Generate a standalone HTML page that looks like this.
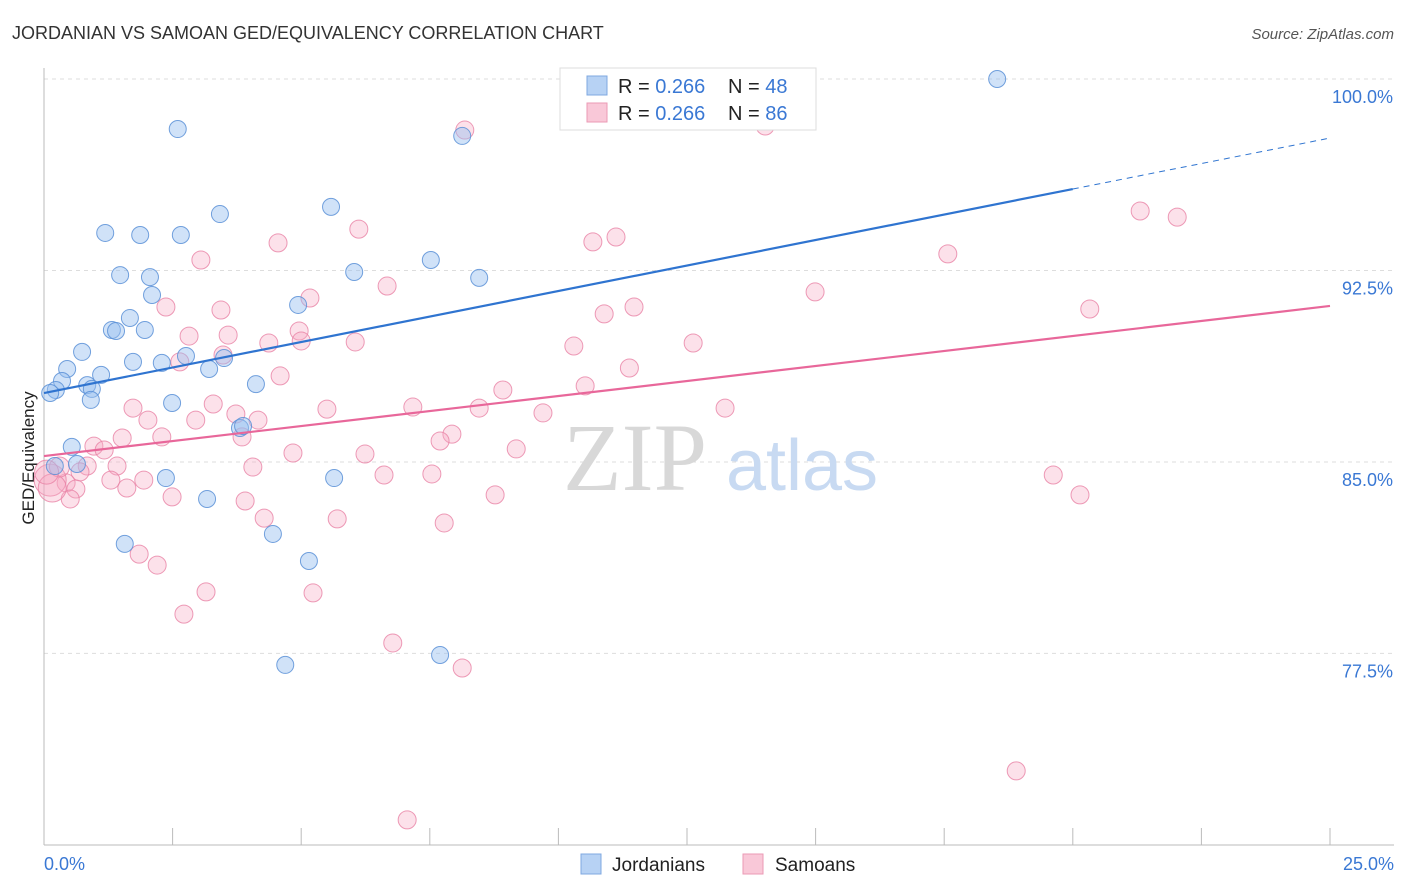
<!DOCTYPE html>
<html><head><meta charset="utf-8"><style>
html,body{margin:0;padding:0;background:#fff;}
svg{display:block;font-family:"Liberation Sans",sans-serif;}
</style></head><body>
<svg id="chart" width="1406" height="892">
<text x="12" y="39" font-size="18" fill="#333">JORDANIAN VS SAMOAN GED/EQUIVALENCY CORRELATION CHART</text>
<text x="1394" y="39" font-size="15" fill="#555" font-style="italic" text-anchor="end">Source: ZipAtlas.com</text>
<g id="grid"></g>
<g>
<text x="635" y="490" font-size="96" font-family="Liberation Serif,serif" fill="#d8d8d8" text-anchor="middle">ZIP</text>
<text x="802" y="490" font-size="72" fill="#c8daf2" text-anchor="middle">atlas</text>
</g>
<text transform="translate(34,458) rotate(-90)" font-size="17" fill="#222" text-anchor="middle">GED/Equivalency</text>
<g id="marks"></g>
<g id="lines"></g>
<g>
<rect x="560" y="68" width="256" height="62" fill="#fff" stroke="#ddd"/>
<rect x="587" y="76" width="20" height="19" fill="#b7d2f4" stroke="#7fa8e0"/>
<rect x="587" y="103" width="20" height="19" fill="#f9c8d8" stroke="#eb9ab5"/>
<text x="618" y="93" font-size="20" fill="#222">R = <tspan fill="#3a78d4">0.266</tspan></text>
<text x="728" y="93" font-size="20" fill="#222">N = <tspan fill="#3a78d4">48</tspan></text>
<text x="618" y="120" font-size="20" fill="#222">R = <tspan fill="#3a78d4">0.266</tspan></text>
<text x="728" y="120" font-size="20" fill="#222">N = <tspan fill="#3a78d4">86</tspan></text>
</g>
<g>
<rect x="581" y="854" width="20" height="20" fill="#b7d2f4" stroke="#7fa8e0"/>
<text x="612" y="871" font-size="19" fill="#222">Jordanians</text>
<rect x="743" y="854" width="20" height="20" fill="#f9c8d8" stroke="#eb9ab5"/>
<text x="775" y="871" font-size="19" fill="#222">Samoans</text>
</g>
</svg>
<script>
const yTicks=[100,92.5,85,77.5];
const yTickLabels=["100.0%","92.5%","85.0%","77.5%"];
const xTickVals=[0,2.5,5,7.5,10,12.5,15,17.5,20,22.5,25];
const xEndLabels=["0.0%","25.0%"];
const jordX=[18.53,2.60,8.13,3.42,5.58,1.19,1.87,2.66,7.52,6.03,8.46,1.48,2.06,2.10,4.94,1.67,1.32,1.40,1.96,0.74,1.73,2.29,2.76,3.50,3.21,0.45,0.35,1.11,0.84,0.93,0.23,0.12,4.12,0.91,2.49,3.81,3.87,0.54,0.64,0.21,2.37,5.64,3.17,1.57,4.45,5.15,4.69,7.70];
const jordY=[100,98.04,97.77,94.71,94.99,93.97,93.89,93.89,92.91,92.44,92.21,92.32,92.24,91.54,91.15,90.64,90.17,90.13,90.17,89.31,88.92,88.88,89.15,89.07,88.64,88.64,88.17,88.41,88.01,87.86,87.82,87.70,88.05,87.43,87.31,86.33,86.41,85.59,84.92,84.84,84.37,84.37,83.55,81.79,82.18,81.12,77.05,77.44];
const samX=[8.18,14.02,21.31,22.03,4.55,6.12,10.67,11.12,17.57,3.05,6.67,14.99,5.17,2.37,3.44,10.89,11.47,20.33,2.82,3.58,4.96,5.00,4.37,6.05,10.30,12.62,3.48,2.64,11.38,4.59,8.92,10.52,3.29,1.73,5.50,7.17,8.46,9.70,13.24,2.02,2.95,3.73,4.16,1.52,2.29,3.85,7.93,7.70,0.97,1.17,4.84,6.24,9.18,0.84,1.42,4.06,0.70,0.43,1.30,1.94,6.61,7.54,1.61,0.62,0.51,2.49,3.91,8.77,19.62,20.14,4.28,5.70,7.78,1.85,2.20,3.15,5.23,2.72,6.78,8.13,18.90,7.06,0.12,0.16,0.30,0.05];
const samY=[98.00,98.16,94.83,94.59,93.58,94.12,93.62,93.81,93.15,92.91,91.89,91.66,91.42,91.07,90.95,90.80,91.07,90.99,89.93,89.97,90.13,89.74,89.66,89.70,89.54,89.66,89.19,88.92,88.68,88.37,87.82,87.98,87.27,87.11,87.07,87.15,87.11,86.92,87.11,86.64,86.64,86.88,86.64,85.94,85.98,85.98,86.09,85.82,85.62,85.47,85.35,85.31,85.51,84.84,84.84,84.80,84.61,84.18,84.29,84.29,84.49,84.53,83.98,83.94,83.55,83.63,83.47,83.71,84.49,83.71,82.80,82.77,82.61,81.39,80.96,79.91,79.87,79.04,77.91,76.93,72.90,70.98,84.29,83.98,84.8,84.6];
const samR=[9,9,9,9,9,9,9,9,9,9,9,9,9,9,9,9,9,9,9,9,9,9,9,9,9,9,9,9,9,9,9,9,9,9,9,9,9,9,9,9,9,9,9,9,9,9,9,9,9,9,9,9,9,9,9,9,9,9,9,9,9,9,9,9,9,9,9,9,9,9,9,9,9,9,9,9,9,9,9,9,9,9,16,14,10,12];
const blueLine=[87.70,0.3995];
const pinkLine=[85.23,0.2352];
const blueSolidEnd=20;
const X0=44,X1=1330,Y0=79;
const xs=v=>X0+(v/25)*(X1-X0);
const ys=v=>Y0+(100-v)*25.53;
const NS="http://www.w3.org/2000/svg";
function mk(tag,attrs,parent){const e=document.createElementNS(NS,tag);for(const k in attrs)e.setAttribute(k,attrs[k]);parent.appendChild(e);return e;}
const grid=document.getElementById('grid');
yTicks.forEach((t,i)=>{
  const l=mk('line',{x1:X0,x2:1394,y1:ys(t),y2:ys(t),stroke:'#ddd','stroke-dasharray':'4,4'},grid);
  
  
  const tx=mk('text',{x:1393,y:ys(t)+24,'font-size':18,fill:'#3a78d4','text-anchor':'end'},grid);
  tx.textContent=yTickLabels[i];
  
  
});
const ax=mk('line',{x1:X0,x2:X0,y1:68,y2:845,stroke:'#bbb'},grid);


const bx=mk('line',{x1:X0,x2:1394,y1:845,y2:845,stroke:'#bbb'},grid);


xTickVals.forEach(t=>{
  const l=mk('line',{x1:xs(t),x2:xs(t),y1:828,y2:845,stroke:'#bbb'},grid);
  
  
});
[[0,'start',44],[25,'end',1394]].forEach((d,i)=>{
  const tx=mk('text',{x:d[2],y:870,'font-size':18,fill:'#3a78d4','text-anchor':d[1]},grid);
  tx.textContent=xEndLabels[i];
  
  
});
const marks=document.getElementById('marks');
samX.forEach((x,i)=>{
  const c=mk('circle',{cx:xs(x),cy:ys(samY[i]),r:samR[i]||9,fill:'rgba(245,170,195,0.35)',stroke:'rgba(232,130,165,0.8)','stroke-width':1},marks);
  
  
});
jordX.forEach((x,i)=>{
  const c=mk('circle',{cx:xs(x),cy:ys(jordY[i]),r:8.5,fill:'rgba(150,190,240,0.45)',stroke:'rgba(90,145,215,0.85)','stroke-width':1},marks);
  
  
});
const lines=document.getElementById('lines');
const b1=mk('line',{x1:xs(0),y1:ys(blueLine[0]),x2:xs(blueSolidEnd),y2:ys(blueLine[0]+blueLine[1]*blueSolidEnd),stroke:'#2f74d0','stroke-width':2.2},lines);


const b2=mk('line',{x1:xs(blueSolidEnd),y1:ys(blueLine[0]+blueLine[1]*blueSolidEnd),x2:xs(25),y2:ys(blueLine[0]+blueLine[1]*25),stroke:'#2f74d0','stroke-width':1,'stroke-dasharray':'6,5'},lines);


const p1=mk('line',{x1:xs(0),y1:ys(pinkLine[0]),x2:xs(25),y2:ys(pinkLine[0]+pinkLine[1]*25),stroke:'#e8679a','stroke-width':2.2},lines);


</script>
</body></html>
